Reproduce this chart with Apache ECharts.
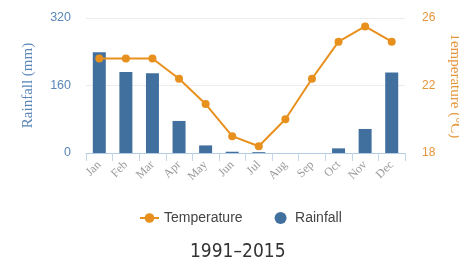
<!DOCTYPE html>
<html><head><meta charset="utf-8">
<script src="https://cdn.jsdelivr.net/npm/echarts@6/dist/echarts.min.js"></script>
<style>html,body{margin:0;padding:0;background:#fff}#c{width:459px;height:270px}</style>
</head><body><div id="c"></div>
<script>
const months = ['Jan','Feb','Mar','Apr','May','Jun','Jul','Aug','Sep','Oct','Nov','Dec'];
const rainfall = [239, 192, 189, 76, 18, 3, 2, 0, 0, 11, 57, 191];
const temperature = [23.6, 23.6, 23.6, 22.4, 20.9, 19.0, 18.4, 20.0, 22.4, 24.6, 25.5, 24.6];
const rainTicks = [0, 160, 320];
const tempTicks = [18, 22, 26];

const chart = echarts.init(document.getElementById('c'));
chart.setOption({
  animation: false,
  title: {
    text: '1991\u20132015', left: 185, bottom: 3,
    textStyle: {fontFamily: 'DejaVu Sans Condensed', fontWeight: 'normal', fontSize: 19, color: '#333'}
  },
  legend: {
    bottom: 40, left: 134, itemGap: 32, itemWidth: 19, itemHeight: 12,
    textStyle: {fontFamily: 'Liberation Sans', fontSize: 14, color: '#444'},
    data: [{name: 'Temperature'}, {name: 'Rainfall', icon: 'circle'}]
  },
  grid: {left: 86, right: 54, top: 18, bottom: 117, outerBoundsMode: 'none', containLabel: false},
  xAxis: {
    type: 'category', data: months,
    axisLine: {lineStyle: {color: '#b4cbe4'}},
    axisTick: {show: true, length: 8, lineStyle: {color: '#c4d6ea'}},
    axisLabel: {rotate: 45, color: '#9a9a9a', fontFamily: 'Liberation Serif', fontSize: 12, margin: 10}
  },
  yAxis: [{
    type: 'value', min: rainTicks[0], max: rainTicks[2], interval: 160,
    name: 'Rainfall (mm)', nameLocation: 'middle', nameGap: 50,
    nameTextStyle: {color: '#5a86b8', fontFamily: 'Liberation Serif', fontSize: 15},
    axisLabel: {color: '#5a86b8', fontFamily: 'Liberation Sans', fontSize: 12.5, margin: 15},
    splitLine: {lineStyle: {color: '#ececec'}},
    axisLine: {show: false}, axisTick: {show: false}
  }, {
    type: 'value', min: tempTicks[0], max: tempTicks[2], interval: 4,
    name: 'Temperature (\u00b0C)', nameLocation: 'middle', nameGap: 42, nameRotate: -90,
    nameTextStyle: {color: '#e5953a', fontFamily: 'Liberation Serif', fontSize: 15},
    axisLabel: {color: '#e5953a', fontFamily: 'Liberation Sans', fontSize: 12, margin: 17},
    splitLine: {show: false},
    axisLine: {show: false}, axisTick: {show: false}
  }],
  series: [{
    name: 'Rainfall', type: 'bar', data: rainfall, barWidth: 13,
    itemStyle: {color: '#41709f'}
  }, {
    name: 'Temperature', type: 'line', yAxisIndex: 1, data: temperature,
    symbol: 'circle', symbolSize: 8,
    lineStyle: {color: '#e8901e', width: 2},
    itemStyle: {color: '#e8901e'}
  }]
});
</script></body></html>
